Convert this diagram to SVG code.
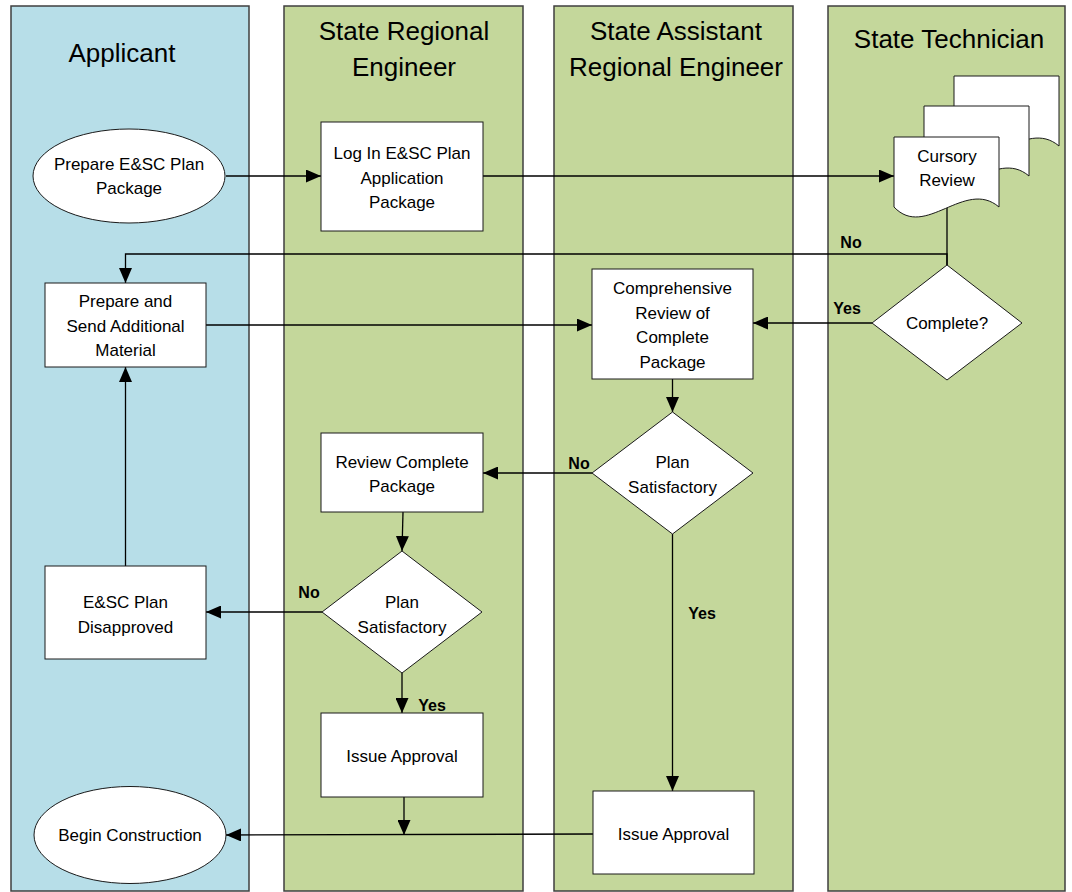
<svg xmlns="http://www.w3.org/2000/svg" xmlns:xlink="http://www.w3.org/1999/xlink" width="1072" height="892" viewBox="0 0 1072 892">
<style>
.lane{stroke:#3f3f3f;stroke-width:1.5}
.blue{fill:#B7DEE8}
.green{fill:#C4D79B}
.hdr{font-family:"Liberation Sans",Arial,sans-serif;font-size:26px;fill:#000;text-anchor:middle}
.node{fill:#fff;stroke:#1a1a1a;stroke-width:1}
.t{font-family:"Liberation Sans",Arial,sans-serif;font-size:17px;fill:#000;text-anchor:middle}
.lbl{font-family:"Liberation Sans",Arial,sans-serif;font-size:16px;font-weight:bold;fill:#000;text-anchor:middle}
.conn{fill:none;stroke:#000;stroke-width:1.3}
.arr{marker-end:url(#ah)}
</style>
<defs>
<marker id="ah" markerUnits="userSpaceOnUse" markerWidth="15" markerHeight="13" refX="15" refY="6.5" orient="auto">
<path d="M0,0 L15,6.5 L0,13 Z" fill="#000"/>
</marker>
<path id="doc" d="M0,0 H105 V70 C71,41 31,103 0,70 Z"/>
</defs>

<g id="lanes">
<g id="lane-applicant">
<rect class="lane blue" x="11" y="6" width="238" height="885"/>
<text class="hdr" x="122" y="62">Applicant</text>
</g>
<g id="lane-sre">
<rect class="lane green" x="284" y="6" width="239" height="885"/>
<text class="hdr" x="404" y="40">State Regional</text>
<text class="hdr" x="404" y="76">Engineer</text>
</g>
<g id="lane-sare">
<rect class="lane green" x="554" y="6" width="239" height="885"/>
<text class="hdr" x="676" y="40">State Assistant</text>
<text class="hdr" x="676" y="76">Regional Engineer</text>
</g>
<g id="lane-tech">
<rect class="lane green" x="828" y="6" width="237" height="885"/>
<text class="hdr" x="949" y="48">State Technician</text>
</g>
</g>

<g id="connectors">
<path class="conn arr" d="M226,176 H321"/>
<path class="conn arr" d="M483,176 H894"/>
<path class="conn" d="M947,208 V265"/>
<path class="conn arr" d="M947,265 V254 H125.5 V283"/>
<path class="conn arr" d="M872,323 H753"/>
<path class="conn arr" d="M206,325 H592"/>
<path class="conn arr" d="M672.5,379 V412"/>
<path class="conn arr" d="M592,473 H483"/>
<path class="conn arr" d="M672.5,534 V791"/>
<path class="conn arr" d="M403,512 L402,551"/>
<path class="conn arr" d="M322,612 H206"/>
<path class="conn arr" d="M402,673 V713"/>
<path class="conn arr" d="M125.5,566 V367"/>
<path class="conn arr" d="M593,834 L226,835"/>
<path class="conn arr" d="M404,797 V835"/>
<text class="lbl" x="851" y="248">No</text>
<text class="lbl" x="847" y="314">Yes</text>
<text class="lbl" x="579" y="469">No</text>
<text class="lbl" x="702" y="619">Yes</text>
<text class="lbl" x="309" y="598">No</text>
<text class="lbl" x="432" y="711">Yes</text>
</g>

<g id="n-prepare-package">
<ellipse class="node" cx="129" cy="176" rx="96" ry="47"/>
<text class="t" x="129" y="170">Prepare E&amp;SC Plan</text>
<text class="t" x="129" y="194">Package</text>
</g>

<g id="n-login">
<rect class="node" x="321" y="122" width="162" height="109"/>
<text class="t" x="402" y="159">Log In E&amp;SC Plan</text>
<text class="t" x="402" y="184">Application</text>
<text class="t" x="402" y="208">Package</text>
</g>

<g id="n-cursory">
<use href="#doc" xlink:href="#doc" class="node" x="954" y="76"/>
<use href="#doc" xlink:href="#doc" class="node" x="924" y="106"/>
<use href="#doc" xlink:href="#doc" class="node" x="894" y="137"/>
<text class="t" x="947" y="162">Cursory</text>
<text class="t" x="947" y="186">Review</text>
</g>

<g id="n-complete">
<polygon class="node" points="947,265 1022,323 947,380 872,323"/>
<text class="t" x="947" y="329">Complete?</text>
</g>

<g id="n-prepare-send">
<rect class="node" x="45" y="283" width="161" height="84"/>
<text class="t" x="125.5" y="307">Prepare and</text>
<text class="t" x="125.5" y="331.5">Send Additional</text>
<text class="t" x="125.5" y="356">Material</text>
</g>

<g id="n-comprehensive">
<rect class="node" x="592" y="269" width="161" height="110"/>
<text class="t" x="672.5" y="294">Comprehensive</text>
<text class="t" x="672.5" y="318.5">Review of</text>
<text class="t" x="672.5" y="343">Complete</text>
<text class="t" x="672.5" y="367.5">Package</text>
</g>

<g id="n-sat-sare">
<polygon class="node" points="672.5,412 753,473 672.5,534 592,473"/>
<text class="t" x="672.5" y="467.5">Plan</text>
<text class="t" x="672.5" y="492.5">Satisfactory</text>
</g>

<g id="n-review">
<rect class="node" x="321" y="433" width="162" height="79"/>
<text class="t" x="402" y="467.5">Review Complete</text>
<text class="t" x="402" y="491.5">Package</text>
</g>

<g id="n-sat-sre">
<polygon class="node" points="402,551 482,612 402,673 322,612"/>
<text class="t" x="402" y="607.5">Plan</text>
<text class="t" x="402" y="632.5">Satisfactory</text>
</g>

<g id="n-disapproved">
<rect class="node" x="45" y="566" width="161" height="93"/>
<text class="t" x="125.5" y="607.5">E&amp;SC Plan</text>
<text class="t" x="125.5" y="632.5">Disapproved</text>
</g>

<g id="n-issue-sre">
<rect class="node" x="321" y="713" width="162" height="84"/>
<text class="t" x="402" y="762">Issue Approval</text>
</g>

<g id="n-issue-sare">
<rect class="node" x="593" y="791" width="161" height="83"/>
<text class="t" x="673.5" y="840">Issue Approval</text>
</g>

<g id="n-begin">
<ellipse class="node" cx="130" cy="835" rx="96" ry="48.5"/>
<text class="t" x="130" y="841">Begin Construction</text>
</g>
</svg>
